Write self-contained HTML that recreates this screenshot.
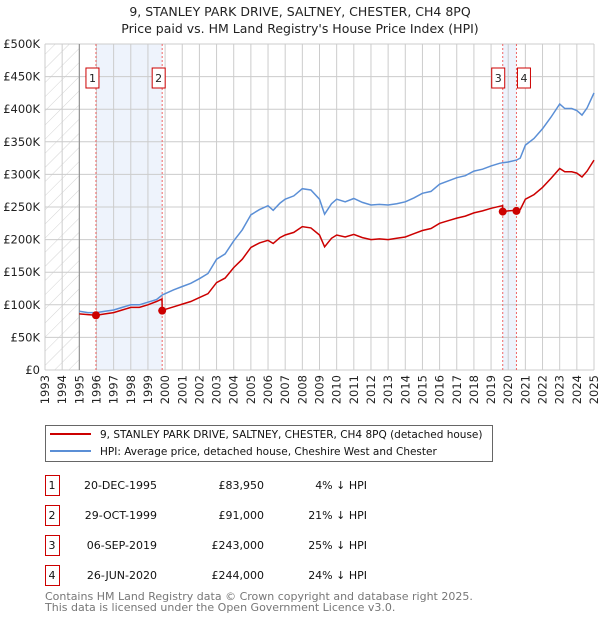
<!DOCTYPE html>
<html><head><meta charset="utf-8"><style>
body{margin:0;background:#fff;font-family:"DejaVu Sans","Liberation Sans",sans-serif;}
svg text{font-family:"DejaVu Sans","Liberation Sans",sans-serif;}
</style></head><body>
<svg id="chart" width="600" height="620" xmlns="http://www.w3.org/2000/svg">
<defs><pattern id="hatch" width="10" height="10" patternUnits="userSpaceOnUse" patternTransform="rotate(45)"><line x1="0" y1="0" x2="0" y2="10" stroke="#d4d4d4" stroke-width="1"/></pattern></defs>
<text x="300" y="16" text-anchor="middle" font-size="12.5" fill="#222">9, STANLEY PARK DRIVE, SALTNEY, CHESTER, CH4 8PQ</text>
<text x="300" y="33" text-anchor="middle" font-size="12.5" fill="#222">Price paid vs. HM Land Registry's House Price Index (HPI)</text>
<g id="grid"></g><g id="marks"></g><g id="axes"></g>
<g>
<rect x="45.5" y="425.5" width="447" height="36" fill="#fff" stroke="#666"/>
<line x1="50" y1="434" x2="91" y2="434" stroke="#cc0000" stroke-width="2"/>
<text x="100" y="438" font-size="10.5" fill="#111">9, STANLEY PARK DRIVE, SALTNEY, CHESTER, CH4 8PQ (detached house)</text>
<line x1="50" y1="451" x2="91" y2="451" stroke="#5b8fd6" stroke-width="2"/>
<text x="100" y="455" font-size="10.5" fill="#111">HPI: Average price, detached house, Cheshire West and Chester</text>
</g>
<g id="table"></g>
<text x="45" y="600" font-size="11" fill="#777">Contains HM Land Registry data © Crown copyright and database right 2025.</text>
<text x="45" y="611" font-size="11" fill="#777">This data is licensed under the Open Government Licence v3.0.</text>
</svg>
<script>
const hpiYears=[1995,1995.5,1996,1996.5,1997,1997.5,1998,1998.5,1999,1999.5,1999.83,2000,2000.5,2001,2001.5,2002,2002.5,2003,2003.5,2004,2004.5,2005,2005.5,2006,2006.3,2006.7,2007,2007.5,2008,2008.5,2009,2009.3,2009.7,2010,2010.5,2011,2011.5,2012,2012.5,2013,2013.5,2014,2014.5,2015,2015.5,2016,2016.5,2017,2017.5,2018,2018.5,2019,2019.5,2019.68,2020,2020.48,2020.7,2021,2021.5,2022,2022.5,2023,2023.3,2023.7,2024,2024.3,2024.6,2025];
const hpiValues=[90,88,88,90,92,96,100,100,104,108,115,117,123,128,133,140,148,170,178,198,215,238,246,252,245,256,262,267,278,276,262,239,255,262,258,263,257,253,254,253,255,258,264,271,274,285,290,295,298,305,308,313,317,318,319,322,325,345,355,370,388,408,401,401,398,391,402,425];
const redYears=[1995,1995.5,1996,1996.5,1997,1997.5,1998,1998.5,1999,1999.5,1999.82,1999.83,2000,2000.5,2001,2001.5,2002,2002.5,2003,2003.5,2004,2004.5,2005,2005.5,2006,2006.3,2006.7,2007,2007.5,2008,2008.5,2009,2009.3,2009.7,2010,2010.5,2011,2011.5,2012,2012.5,2013,2013.5,2014,2014.5,2015,2015.5,2016,2016.5,2017,2017.5,2018,2018.5,2019,2019.5,2019.67,2019.68,2020,2020.47,2020.48,2020.7,2021,2021.5,2022,2022.5,2023,2023.3,2023.7,2024,2024.3,2024.6,2025];
const redValues=[86,85,84,86,88,92,96,96,100,105,109,91,93,97,101,105,111,117,134,141,157,170,188,195,199,194,203,207,211,220,218,207,189,202,207,204,208,203,200,201,200,202,204,209,214,217,225,229,233,236,241,244,248,251,252,243,244,245,244,246,262,269,280,294,309,304,304,302,296,305,322];
const saleLabels=["1","2","3","4"];
const saleYears=[1995.97,1999.83,2019.68,2020.48];
const saleValues=[83.95,91,243,244];
const saleDates=["20-DEC-1995","29-OCT-1999","06-SEP-2019","26-JUN-2020"];
const salePrices=["£83,950","£91,000","£243,000","£244,000"];
const saleDiffs=["4% ↓ HPI","21% ↓ HPI","25% ↓ HPI","24% ↓ HPI"];
const yTicks=[0,50,100,150,200,250,300,350,400,450,500];
const yTickLabels=["£0","£50K","£100K","£150K","£200K","£250K","£300K","£350K","£400K","£450K","£500K"];
const xTicks=[1993,1994,1995,1996,1997,1998,1999,2000,2001,2002,2003,2004,2005,2006,2007,2008,2009,2010,2011,2012,2013,2014,2015,2016,2017,2018,2019,2020,2021,2022,2023,2024,2025];

const NS="http://www.w3.org/2000/svg";
const X0=45,X1=594,Y0=370,Y1=44;
const xs=y=>X0+(y-1993)/(2025-1993)*(X1-X0);
const ys=v=>Y0-v/500*(Y0-Y1);
function mk(tag,attrs,parent){const e=document.createElementNS(NS,tag);for(const k in attrs)e.setAttribute(k,attrs[k]);parent.appendChild(e);return e;}
const grid=document.getElementById('grid'),marks=document.getElementById('marks'),axes=document.getElementById('axes'),table=document.getElementById('table');

let r=mk('rect',{x:xs(1993),y:Y1,width:xs(1995)-xs(1993),height:Y0-Y1,fill:'url(#hatch)'},grid);


r=mk('rect',{x:xs(saleYears[0]),y:Y1,width:xs(saleYears[1])-xs(saleYears[0]),height:Y0-Y1,fill:'#eef3fc'},grid);


r=mk('rect',{x:xs(saleYears[2]),y:Y1,width:xs(saleYears[3])-xs(saleYears[2]),height:Y0-Y1,fill:'#eef3fc'},grid);



xTicks.forEach(t=>{const l=mk('line',{x1:xs(t),x2:xs(t),y1:Y1,y2:Y0,stroke:'#ccc'},grid);


const tx=mk('text',{x:0,y:0,transform:`translate(${xs(t)+4},${Y0+5}) rotate(-90)`,'text-anchor':'end','font-size':'11.5',fill:'#222'},axes);tx.textContent=t;

});
yTicks.forEach((t,i)=>{const l=mk('line',{x1:X0,x2:X1,y1:ys(t),y2:ys(t),stroke:'#ccc'},grid);


const tx=mk('text',{x:X0-5,y:ys(t)+4,'text-anchor':'end','font-size':'11.5',fill:'#222'},axes);tx.textContent=yTickLabels[i];

});
let al=mk('line',{x1:xs(1995),x2:xs(1995),y1:Y1,y2:Y0,stroke:'#888'},grid);



saleYears.forEach((s,i)=>{const l=mk('line',{x1:xs(s),x2:xs(s),y1:Y1,y2:Y0,stroke:'#e66','stroke-dasharray':'2,2'},marks);

});

function path(yrs,vals,color,name){const d=yrs.map((y,i)=>(i?'L':'M')+xs(y).toFixed(1)+','+ys(vals[i]).toFixed(1)).join('');
const p=mk('path',{d:d,fill:'none',stroke:color,'stroke-width':1.5},marks);

}
path(hpiYears,hpiValues,'#5b8fd6','hpi-line');
path(redYears,redValues,'#cc0000','property-price-line');

const boxOff=[10,10,11,-1];
saleYears.forEach((s,i)=>{const c=mk('circle',{cx:xs(s),cy:ys(saleValues[i]),r:4,fill:'#cc0000'},marks);


const bx=xs(s)-boxOff[i];
const b=mk('rect',{x:bx,y:68,width:13,height:20,fill:'#fff',stroke:'#cc0000'},marks);


const t=mk('text',{x:bx+6.5,y:82,'text-anchor':'middle','font-size':'11',fill:'#222'},marks);t.textContent=saleLabels[i];

});

saleLabels.forEach((lab,i)=>{const y=475+i*30;
const b=mk('rect',{x:45.5,y:y+0.5,width:14,height:20,fill:'#fff',stroke:'#cc0000'},table);


const cols=[[52,lab,'middle'],[157,saleDates[i],'end'],[264,salePrices[i],'end'],[367,saleDiffs[i],'end']];
cols.forEach(c=>{const t=mk('text',{x:c[0],y:y+14,'text-anchor':c[2],'font-size':'11',fill:'#111'},table);t.textContent=c[1];

});});
</script>
</body></html>
